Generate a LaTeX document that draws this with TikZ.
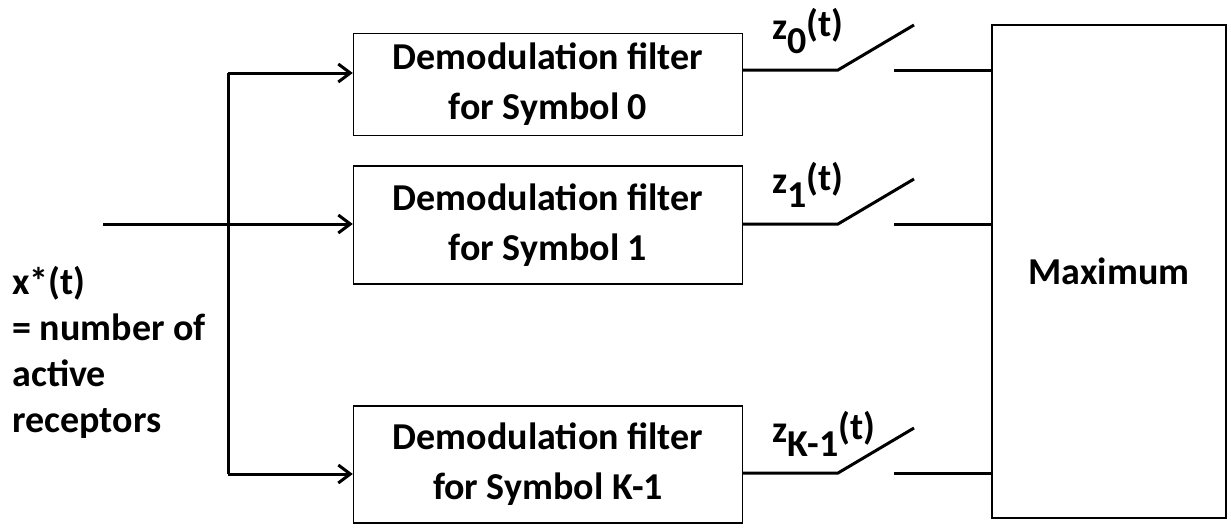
\documentclass[tikz,border=0pt]{standalone}
\usepackage{fontspec}
\setmainfont{Carlito}
\usetikzlibrary{positioning,arrows.meta,calc}
\tikzset{
  filt/.style={draw, line width=0.7pt, minimum width=194.5pt, align=center, inner sep=0pt,
    font=\fontsize{19}{25}\selectfont\bfseries},
  lab/.style={font=\fontsize{19}{23}\selectfont\bfseries, inner sep=0pt},
  wire/.style={line width=1.5pt},
  flow/.style={wire, -{Straight Barb[length=6pt, width=9pt, line width=1.5pt]}},
}
\newcommand{\zsig}[1]{z\raisebox{-7pt}{#1}\raisebox{1.5pt}{(t)}}

\begin{document}
\begin{tikzpicture}[x=0.5pt, y=-0.5pt]
    \useasboundingbox (0,0) rectangle (1231,527);
    % filters
    \node[filt, minimum height=51pt]   (f0) at (548, 84.5)  {Demodulation filter\\for Symbol 0};
    \node[filt, minimum height=59pt]   (f1) at (548, 225)   {Demodulation filter\\for Symbol 1};
    \node[filt, minimum height=58.5pt] (fk) at (548, 464.5) {Demodulation filter\\for Symbol K-1};
    % decision
    \node[filt, minimum width=117pt, minimum height=246.5pt] (max) at (1109, 271.5) {Maximum};
    % input
    \node[lab, anchor=base west, align=left] (xin) at (12, 432) {x*(t)\\= number of\\active\\receptors};
    \coordinate (in) at (103, 224);
    \coordinate (sptop) at (228, 73);
    \coordinate (spbot) at (228, 474);
    \draw[flow] (in) -- (in -| f1.west);
    \draw[wire] (sptop) -- (spbot);
    \draw[flow] (sptop) -- (sptop -| f0.west);
    \draw[flow] (spbot) -- (spbot -| fk.west);
    % switches
    \foreach \f/\y/\sub in {f0/70/0, f1/224/1, fk/473/K-1} {
      \coordinate (piv) at (838, \y);
      \coordinate (tip) at (914, \y-45);
      \coordinate (cnt) at (894, \y);
      \draw[wire] (piv -| \f.east) -- (piv) -- (tip);
      \draw[wire] (cnt) -- (cnt -| max.west);
      \node[lab, anchor=base west] (z\sub) at (772, \y-31) {\zsig{\sub}};
    }
\end{tikzpicture}
\end{document}
